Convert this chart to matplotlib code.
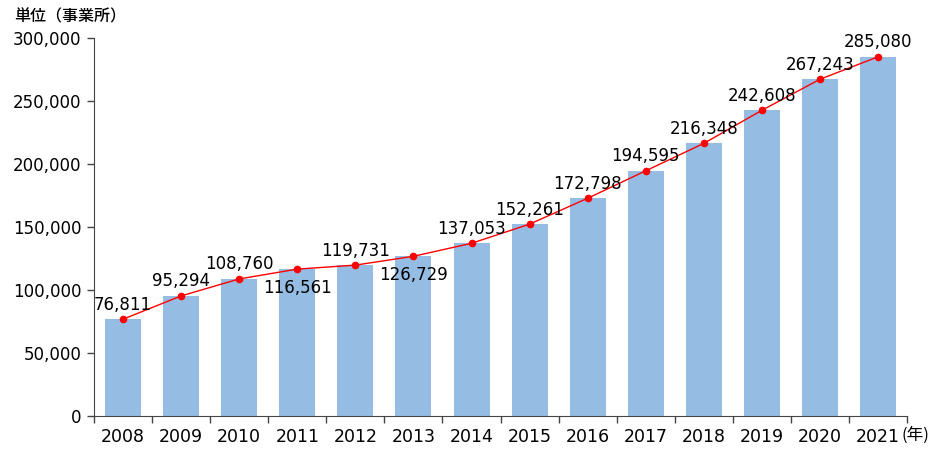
import numpy as np
import matplotlib.pyplot as plt

plt.rcParams['font.family'] = ['DejaVu Sans', 'Noto Sans CJK JP']

# data
years = ['2008', '2009', '2010', '2011', '2012', '2013', '2014',
         '2015', '2016', '2017', '2018', '2019', '2020', '2021']
counts = [76811, 95294, 108760, 116561, 119731, 126729, 137053,
          152261, 172798, 194595, 216348, 242608, 267243, 285080]
below = ['2011', '2013']  # labels drawn under the point

BAR_COLOR = '#95BDE3'
LINE_COLOR = '#FF0000'
CJK = ['Noto Sans CJK JP', 'DejaVu Sans']

fig = plt.figure(figsize=(9.4, 4.5), dpi=100)
ax = fig.add_axes([0.1, 0.0756, 0.865, 0.84])

x = np.arange(len(years))
ax.bar(x, counts, width=0.62, color=BAR_COLOR, zorder=1)
ax.plot(x, counts, color=LINE_COLOR, lw=1, marker='o', ms=4.5, zorder=3)

for xi, yr, v in zip(x, years, counts):
    if yr in below:
        ax.annotate(f'{v:,}', (xi, v), xytext=(0, -7), textcoords='offset points',
                    ha='center', va='top', fontsize=12)
    else:
        ax.annotate(f'{v:,}', (xi, v), xytext=(0, 4), textcoords='offset points',
                    ha='center', va='bottom', fontsize=12)

ax.set_xlim(-0.5, len(years) - 0.5)
ax.set_ylim(0, 300000)
ax.set_yticks(np.arange(0, 300001, 50000))
ax.set_yticklabels([f'{t:,}' for t in range(0, 300001, 50000)], fontsize=12)

# category labels between boundary ticks
ax.set_xticks(np.arange(-0.5, len(years)), minor=False)
ax.set_xticklabels([])
ax.set_xticks(x, minor=True)
ax.set_xticklabels(years, minor=True, fontsize=12.5)
ax.tick_params(axis='x', which='minor', length=0, pad=9)
ax.tick_params(axis='x', which='major', length=5, width=1, color='#444444')
ax.tick_params(axis='y', length=5, width=1, color='#444444', pad=4)

for s in ['top', 'right']:
    ax.spines[s].set_visible(False)
for s in ['left', 'bottom']:
    ax.spines[s].set_color('#444444')

fig.text(0.015, 0.962, '単位（事業所）', fontsize=11.5, ha='left', va='center',
         family=CJK, weight='medium')
fig.text(0.959, 0.032, '(年)', fontsize=12, ha='left', va='center', family=CJK)

fig.savefig('out.png', dpi=100)
